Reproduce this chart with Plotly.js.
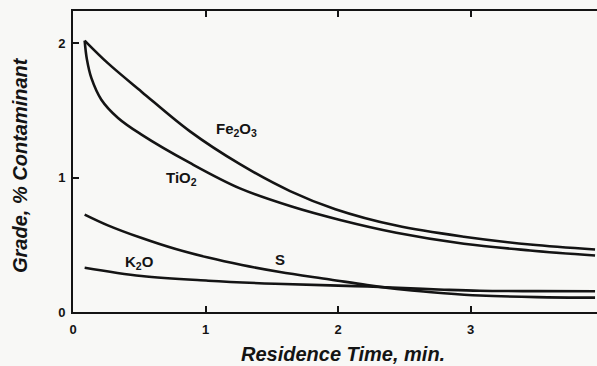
<!DOCTYPE html>
<html>
<head>
<meta charset="utf-8">
<script src="https://cdn.plot.ly/plotly-3.0.1.min.js"></script>
<style>
  html, body { margin:0; padding:0; width:597px; height:366px; overflow:hidden; background:#f8f8f6; }
  #chart { width:603px; height:366px; }
</style>
</head>
<body>
<div id="chart"></div>
<script>
// Residence time (min) and grade (% contaminant)
const fe2o3X = [0.088, 0.265, 0.517, 0.883, 1.26, 1.638, 1.98, 2.44, 2.95, 3.45, 3.94];
const fe2o3Y = [2.02, 1.85, 1.64, 1.344, 1.10, 0.90, 0.765, 0.643, 0.56, 0.502, 0.465];

const tio2X = [0.088, 0.105, 0.139, 0.214, 0.34, 0.517, 0.883, 1.26, 1.65, 2.016, 2.44, 2.95, 3.45, 3.94];
const tio2Y = [2.02, 1.88, 1.74, 1.58, 1.444, 1.32, 1.109, 0.92, 0.785, 0.685, 0.59, 0.508, 0.458, 0.42];

const sX = [0.088, 0.263, 0.519, 0.769, 1.02, 1.275, 1.562, 1.94, 2.22, 2.5, 2.8, 3.07, 3.5, 3.94];
const sY = [0.725, 0.645, 0.55, 0.47, 0.405, 0.35, 0.298, 0.242, 0.2, 0.165, 0.14, 0.123, 0.111, 0.107];

const k2oX = [0.088, 0.517, 1.02, 1.525, 1.94, 2.22, 2.5, 2.8, 3.07, 3.5, 3.94];
const k2oY = [0.33, 0.268, 0.233, 0.21, 0.198, 0.19, 0.178, 0.166, 0.158, 0.155, 0.154];

const xTicks = [0, 1, 2, 3];
const yTicks = [0, 1, 2];
const xTitle = "Residence Time, min.";
const yTitle = "Grade, % Contaminant";

const labels = [
  {text: "Fe<sub>2</sub>O<sub>3</sub>", x: 1.237, y: 1.36},
  {text: "TiO<sub>2</sub>", x: 0.82, y: 0.99},
  {text: "K<sub>2</sub>O", x: 0.505, y: 0.37},
  {text: "S", x: 1.562, y: 0.39}
];

const ink = "#141414";
const lineStyle = {color: ink, width: 2.6, shape: "spline", smoothing: 1};
const mk = (x, y, name) => ({x, y, name, type: "scatter", mode: "lines", line: lineStyle, hoverinfo: "skip"});

const data = [
  mk(fe2o3X, fe2o3Y, "Fe2O3"),
  mk(tio2X, tio2Y, "TiO2"),
  mk(sX, sY, "S"),
  mk(k2oX, k2oY, "K2O")
];

const fontFam = "'Liberation Sans', Arial, Helvetica, sans-serif";

const annotations = labels.map(l => ({
  text: "<b>" + l.text + "</b>", x: l.x, y: l.y, xref: "x", yref: "y",
  showarrow: false, font: {family: fontFam, size: 15, color: ink}
}));
annotations.push({
  text: "<b><i>" + xTitle + "</i></b>", xref: "paper", yref: "paper",
  x: (343 - 73) / 530, y: -0.14, yanchor: "middle", xanchor: "center", showarrow: false,
  font: {family: fontFam, size: 20, color: ink}
});
annotations.push({
  text: "<b><i>" + yTitle + "</i></b>", xref: "paper", yref: "paper",
  x: -0.101, y: 0.49, xanchor: "center", yanchor: "middle", textangle: -90, showarrow: false,
  font: {family: fontFam, size: 20, color: ink}
});

const axisCommon = {
  showline: true, linecolor: ink, linewidth: 2, mirror: "ticks",
  ticks: "inside", ticklen: 6, tickwidth: 2, tickcolor: ink,
  showgrid: false, zeroline: false, fixedrange: true,
  tickfont: {family: fontFam, size: 13, color: ink}
};

const layout = {
  width: 603, height: 366,
  margin: {l: 73, r: 0, t: 11, b: 54},
  paper_bgcolor: "#f8f8f6", plot_bgcolor: "#f8f8f6",
  showlegend: false,
  xaxis: Object.assign({}, axisCommon, {range: [0, 4], tickvals: xTicks, ticktext: xTicks.map(v => "<b>" + v + "</b>"), ticklabelstandoff: 4}),
  yaxis: Object.assign({}, axisCommon, {range: [0, 2.24], tickvals: yTicks, ticktext: yTicks.map(v => "<b>" + v + "</b>"), ticklabelstandoff: 3}),
  annotations
};

Plotly.newPlot("chart", data, layout, {staticPlot: true, displayModeBar: false});
</script>
</body>
</html>
